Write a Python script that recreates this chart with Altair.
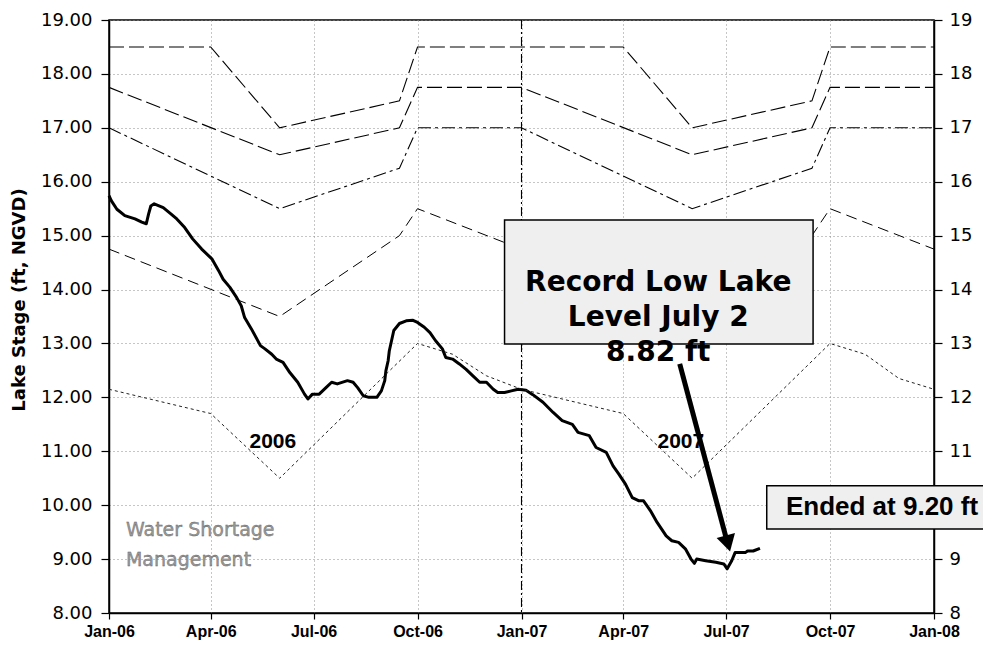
import altair as alt
import pandas as pd

# ---------------- data ----------------
lake_dates = [
    "2006-01-01", "2006-01-03", "2006-01-08", "2006-01-15", "2006-01-24", "2006-01-30",
    "2006-02-03", "2006-02-05", "2006-02-07", "2006-02-10", "2006-02-18", "2006-02-25",
    "2006-03-02", "2006-03-09", "2006-03-16", "2006-03-24", "2006-04-02", "2006-04-08",
    "2006-04-12", "2006-04-18", "2006-04-24", "2006-04-28", "2006-05-01", "2006-05-07",
    "2006-05-15", "2006-05-19", "2006-05-25", "2006-05-29", "2006-06-04", "2006-06-10",
    "2006-06-17", "2006-06-23", "2006-06-26", "2006-06-30", "2006-07-06", "2006-07-12",
    "2006-07-17", "2006-07-22", "2006-07-31", "2006-08-05", "2006-08-09", "2006-08-14",
    "2006-08-19", "2006-08-26", "2006-08-30", "2006-09-02", "2006-09-03", "2006-09-05",
    "2006-09-06", "2006-09-08", "2006-09-10", "2006-09-15", "2006-09-21", "2006-09-27",
    "2006-10-01", "2006-10-07", "2006-10-12", "2006-10-17", "2006-10-23", "2006-10-26",
    "2006-11-01", "2006-11-07", "2006-11-13", "2006-11-19", "2006-11-25", "2006-12-01",
    "2006-12-07", "2006-12-11", "2006-12-17", "2006-12-23", "2006-12-29", "2007-01-05",
    "2007-01-11", "2007-01-20", "2007-01-29", "2007-02-06", "2007-02-15", "2007-02-20",
    "2007-03-02", "2007-03-08", "2007-03-17", "2007-03-23", "2007-03-28", "2007-04-03",
    "2007-04-09", "2007-04-15", "2007-04-19", "2007-04-25", "2007-05-01", "2007-05-09",
    "2007-05-14", "2007-05-20", "2007-05-26", "2007-05-31", "2007-06-03", "2007-06-05",
    "2007-06-13", "2007-06-22", "2007-06-29", "2007-07-02", "2007-07-06", "2007-07-09",
    "2007-07-18", "2007-07-20", "2007-07-25", "2007-07-31",
]
lake_stage = [
    15.74, 15.65, 15.49, 15.37, 15.31, 15.25,
    15.22, 15.40, 15.55, 15.59, 15.52, 15.40,
    15.31, 15.15, 14.94, 14.75, 14.57, 14.35,
    14.19, 14.04, 13.85, 13.70, 13.48, 13.27,
    12.96, 12.90, 12.80, 12.71, 12.65, 12.46,
    12.28, 12.06, 11.97, 12.06, 12.06, 12.18,
    12.28, 12.25, 12.31, 12.28, 12.18, 12.03,
    12.00, 12.00, 12.12, 12.31, 12.49, 12.68,
    12.86, 13.05, 13.24, 13.37, 13.42, 13.43,
    13.39, 13.30, 13.20, 13.05, 12.90, 12.74,
    12.71, 12.62, 12.52, 12.40, 12.28, 12.28,
    12.15, 12.09, 12.09, 12.12, 12.15, 12.13,
    12.05, 11.91, 11.72, 11.57, 11.50, 11.35,
    11.29, 11.07, 10.98, 10.73, 10.58, 10.39,
    10.14, 10.08, 10.08, 9.90, 9.68, 9.43,
    9.34, 9.31, 9.19, 9.00, 8.92, 9.00,
    8.97, 8.94, 8.91, 8.82, 8.97, 9.12,
    9.12, 9.15, 9.15, 9.20,
]

top_dates = ["2006-01-01", "2006-04-01", "2006-06-01", "2006-09-15", "2006-10-01",
             "2007-04-01", "2007-06-01", "2007-09-15", "2007-10-01", "2008-01-01"]
top_values = [18.5, 18.5, 17.0, 17.5, 18.5, 18.5, 17.0, 17.5, 18.5, 18.5]

band_dates = ["2006-01-01", "2006-06-01", "2006-09-15", "2006-10-01", "2007-01-01",
              "2007-06-01", "2007-09-15", "2007-10-01", "2008-01-01"]
high_values = [17.75, 16.5, 17.0, 17.75, 17.75, 16.5, 17.0, 17.75, 17.75]
mid_values = [17.0, 15.5, 16.25, 17.0, 17.0, 15.5, 16.25, 17.0, 17.0]
low_values = [14.75, 13.5, 15.0, 15.5, 14.75, 13.5, 15.0, 15.5, 14.75]

wsm_dates = ["2006-01-01", "2006-04-01", "2006-06-01", "2006-10-01", "2006-11-01",
             "2006-12-01", "2007-01-01", "2007-04-01", "2007-06-01", "2007-10-01",
             "2007-11-01", "2007-12-01", "2008-01-01"]
wsm_values = [12.15, 11.7, 10.5, 13.0, 12.8, 12.4, 12.15, 11.7, 10.5, 13.0, 12.8, 12.35, 12.15]

year_label_dates = ["2006-05-26", "2007-05-22"]
year_label_values = [11.18, 11.18]
year_label_text = ["2006", "2007"]

record_box_dates = ["2006-12-17", "2007-09-16"]
record_box_values = [15.29, 12.99]
record_text = "Record Low Lake\nLevel July 2\n8.82 ft"
record_text_date = "2007-05-02"
record_text_value = 14.13

ended_box_dates = ["2007-08-06", "2008-02-28"]
ended_box_values = [10.36, 9.56]
ended_text = "Ended at 9.20 ft"
ended_text_date = "2007-11-16"
ended_text_value = 9.97

arrow_dates = ["2007-05-21", "2007-07-01"]
arrow_values = [12.62, 9.40]
arrow_head_date = "2007-07-02T16:00:00"
arrow_head_value = 9.29

wsm_text = "Water Shortage\nManagement"
wsm_text_date = "2006-01-16"
wsm_text_value = 9.54

divider_date = "2007-01-01"

left_ticks = list(range(8, 20))
right_ticks = [8, 9, 11, 12, 13, 14, 15, 16, 17, 18, 19]  # "10" sits under the box


def ts(d):
    return d if "T" in d else d + "T00:00:00"


def series(dates, values):
    return pd.DataFrame({"date": [ts(d) for d in dates], "value": values})


# ---------------- scales / axes ----------------
xscale = alt.Scale(domain=[alt.DateTime(year=2006, month=1, date=1),
                           alt.DateTime(year=2008, month=1, date=1)], nice=False)
yscale = alt.Scale(domain=[8, 19], nice=False, zero=False)

GRID = dict(grid=True, gridColor="#8c8c8c", gridDash=[1, 3], gridWidth=1)

x_axis = alt.Axis(
    orient="bottom",
    tickCount=alt.TimeIntervalStep(interval="month", step=3),
    format="%b-%y", title=None, tickSize=6, tickColor="black", tickWidth=1.2,
    domainColor="black", domainWidth=1.5,
    labelFont="Liberation Sans", labelFontSize=16, labelFontWeight="bold",
    labelColor="black", labelPadding=4, labelFlush=False, labelOverlap=False,
    **GRID,
)
left_axis = alt.Axis(
    orient="left", values=left_ticks, format=".2f",
    tickSize=8, tickColor="black", tickWidth=1.2,
    domainColor="black", domainWidth=1.5,
    labelFont="DejaVu Sans", labelFontSize=18, labelColor="black", labelPadding=9,
    title="Lake Stage (ft, NGVD)", titleFont="DejaVu Sans", titleFontSize=18,
    titleFontWeight="bold", titleColor="black", titleX=-90, titleY=279.5,
    titleAngle=270, titleAlign="center", titleBaseline="middle",
    **GRID,
)
right_axis = alt.Axis(
    orient="right", values=right_ticks, format="d", grid=False,
    tickSize=8, tickColor="black", tickWidth=1.2,
    domainColor="black", domainWidth=1.5,
    labelFont="DejaVu Sans", labelFontSize=18, labelColor="black", labelPadding=7,
    title=None,
)


def xenc():
    # every layer carries the identical x axis so the shared axis merges cleanly
    return alt.X("date:T", scale=xscale, axis=x_axis)


def yenc(axis=None):
    return alt.Y("value:Q", scale=yscale, axis=axis)


# ---------------- layers ----------------
lake = alt.Chart(series(lake_dates, lake_stage)).mark_line(
    color="black", strokeWidth=3, strokeJoin="round"
).encode(x=xenc(), y=yenc(left_axis))

top_line = alt.Chart(series(top_dates, top_values)).mark_line(
    color="black", strokeWidth=1.1, strokeDash=[15, 5]
).encode(x=xenc(), y=yenc(right_axis))

high_line = alt.Chart(series(band_dates, high_values)).mark_line(
    color="black", strokeWidth=1.1, strokeDash=[15, 5]
).encode(x=xenc(), y=yenc())

mid_line = alt.Chart(series(band_dates, mid_values)).mark_line(
    color="black", strokeWidth=1.1, strokeDash=[13, 4, 3, 4]
).encode(x=xenc(), y=yenc())

low_line = alt.Chart(series(band_dates, low_values)).mark_line(
    color="black", strokeWidth=1.0, strokeDash=[11, 6]
).encode(x=xenc(), y=yenc())

wsm_line = alt.Chart(series(wsm_dates, wsm_values)).mark_line(
    color="#222222", strokeWidth=1.0, strokeDash=[3, 3]
).encode(x=xenc(), y=yenc())

divider = alt.Chart(pd.DataFrame({"date": [ts(divider_date)]})).mark_rule(
    color="black", strokeWidth=1.1, strokeDash=[9, 3, 2, 3]
).encode(x=xenc())

year_labels = alt.Chart(pd.DataFrame({
    "date": [ts(d) for d in year_label_dates], "value": year_label_values,
    "label": year_label_text,
})).mark_text(font="Liberation Sans", fontSize=21, fontWeight="bold",
              color="black", align="center", baseline="middle"
).encode(x=xenc(), y=yenc(), text="label:N")

wsm_label = alt.Chart(pd.DataFrame({
    "date": [ts(wsm_text_date)], "value": [wsm_text_value], "label": [wsm_text],
})).mark_text(font="DejaVu Sans", fontSize=19, fill="#9a9a9a", stroke="#5a5a5a",
              strokeWidth=0.35, align="left", baseline="middle",
              lineBreak="\n", lineHeight=30
).encode(x=xenc(), y=yenc(), text="label:N")

record_box = alt.Chart(pd.DataFrame({
    "date": [ts(record_box_dates[0])], "date2": [ts(record_box_dates[1])],
    "value": [record_box_values[0]], "value2": [record_box_values[1]],
})).mark_rect(fill="#efefef", stroke="black", strokeWidth=1.5).encode(
    x=xenc(), x2="date2:T", y=yenc(), y2="value2:Q")

record_label = alt.Chart(pd.DataFrame({
    "date": [ts(record_text_date)], "value": [record_text_value], "label": [record_text],
})).mark_text(font="DejaVu Sans", fontSize=28, fontWeight="bold", color="black",
              align="center", baseline="middle", lineBreak="\n", lineHeight=35
).encode(x=xenc(), y=yenc(), text="label:N")

ended_box = alt.Chart(pd.DataFrame({
    "date": [ts(ended_box_dates[0])], "date2": [ts(ended_box_dates[1])],
    "value": [ended_box_values[0]], "value2": [ended_box_values[1]],
})).mark_rect(fill="#efefef", stroke="black", strokeWidth=1.5).encode(
    x=xenc(), x2="date2:T", y=yenc(), y2="value2:Q")

ended_label = alt.Chart(pd.DataFrame({
    "date": [ts(ended_text_date)], "value": [ended_text_value], "label": [ended_text],
})).mark_text(font="Liberation Sans", fontSize=26, fontWeight="bold", color="black",
              align="center", baseline="middle"
).encode(x=xenc(), y=yenc(), text="label:N")

arrow_shaft = alt.Chart(pd.DataFrame({
    "date": [ts(arrow_dates[0])], "date2": [ts(arrow_dates[1])],
    "value": [arrow_values[0]], "value2": [arrow_values[1]],
})).mark_rule(color="black", strokeWidth=5).encode(
    x=xenc(), x2="date2:T", y=yenc(), y2="value2:Q")

arrow_head = alt.Chart(pd.DataFrame({
    "date": [ts(arrow_head_date)], "value": [arrow_head_value],
})).mark_point(shape="triangle-down", filled=True, size=360, angle=345,
               color="black", opacity=1, strokeWidth=0
).encode(x=xenc(), y=yenc())

chart = alt.layer(
    lake, top_line, high_line, mid_line, low_line, wsm_line, divider,
    year_labels, wsm_label, record_box, record_label, ended_box, ended_label,
    arrow_shaft, arrow_head,
).resolve_axis(y="independent").properties(
    width=825, height=593,
    autosize=alt.AutoSizeParams(type="none"),
    padding={"left": 101, "top": 12, "right": 49, "bottom": 27},
    background="white",
).configure_view(stroke="black", strokeWidth=1.5)

chart.save("out.html", embed_options={"renderer": "svg", "actions": False})
